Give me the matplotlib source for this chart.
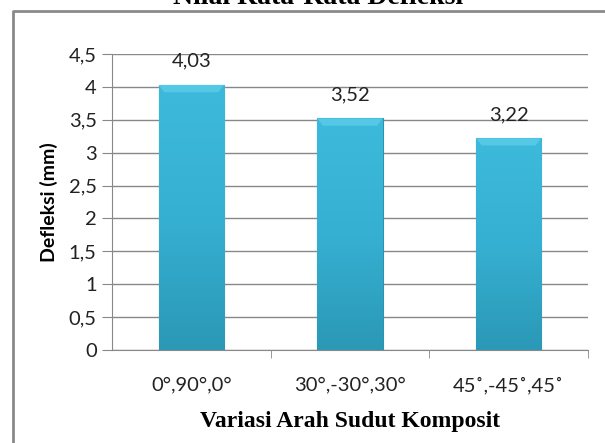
import numpy as np
import matplotlib
matplotlib.use("Agg")
import matplotlib.pyplot as plt
from matplotlib.lines import Line2D
from matplotlib.colors import LinearSegmentedColormap

# data
categories = ["0°,90°,0°", "30°,-30°,30°", "45˚,-45˚,45˚"]
values = [4.03, 3.52, 3.22]
value_labels = ["4,03", "3,52", "3,22"]
yticks = [0, 0.5, 1, 1.5, 2, 2.5, 3, 3.5, 4, 4.5]
ytick_labels = ["0", "0,5", "1", "1,5", "2", "2,5", "3", "3,5", "4", "4,5"]

sans = ["Lato", "DejaVu Sans"]
serif = ["Liberation Serif", "DejaVu Serif"]

fig = plt.figure(figsize=(6.05, 4.43), dpi=100)
ax = fig.add_axes([0.185, 0.21, 0.787, 0.668])

x = np.arange(len(categories))
bar_w = 0.41
bars = ax.bar(x, values, width=bar_w, color="#37b4d6", edgecolor="#2a93b0",
              linewidth=0.8, zorder=3)

# vertical gradient on each bar
cmap = LinearSegmentedColormap.from_list("bar", ["#2b98b6", "#36b0d2", "#3dbadb"])
grad = np.linspace(0, 1, 256).reshape(-1, 1)
for b in bars:
    x0, w, h = b.get_x(), b.get_width(), b.get_height()
    im = ax.imshow(grad, cmap=cmap, aspect="auto", origin="lower",
                   extent=[x0, x0 + w, 0, h], zorder=3.1)
    im.set_clip_path(b)
    # light bevel at the top
    ax.fill([x0, x0 + w, x0 + w - 0.035, x0 + 0.035], [h, h, h - 0.11, h - 0.11],
            color="#55c8e6", zorder=3.2, lw=0)

for xi, v, lab in zip(x, values, value_labels):
    ax.annotate(lab, (xi, v), xytext=(0, 17), textcoords="offset points",
                ha="center", va="center", fontsize=14.5, family=sans, color="#222222")

ax.set_xlim(-0.5, 2.5)
ax.set_ylim(0, 4.5)
ax.set_yticks(yticks)
ax.set_yticklabels(ytick_labels, family=sans, fontsize=14.5, color="#222222")
ax.set_xticks(x)
ax.set_xticklabels(categories, family=sans, fontsize=14.5, color="#222222")
ax.set_xticks([0.5, 1.5, 2.5], minor=True)
ax.tick_params(axis="x", which="major", length=0, pad=19)
ax.tick_params(axis="x", which="minor", length=6, color="#888888", direction="out")
ax.tick_params(axis="y", length=7, color="#888888", direction="out", pad=4)
ax.grid(axis="y", color="#888888", linewidth=1, zorder=0)
ax.set_axisbelow(True)
for s in ["top", "right"]:
    ax.spines[s].set_visible(False)
for s in ["left", "bottom"]:
    ax.spines[s].set_color("#888888")

ax.set_ylabel("Defleksi (mm)", family=sans, fontweight="bold", fontsize=14, labelpad=8)
ax.set_xlabel("Variasi Arah Sudut Komposit", family=serif, fontweight="bold",
              fontsize=17, labelpad=12)

fig.text(0.525, 1.0 - 4 / 443, "Nilai Rata-Rata Defleksi", family=serif,
         fontweight="bold", fontsize=20, ha="center", va="baseline")

# outer frame (top and left edges visible)
fig.add_artist(Line2D([13 / 605, 13 / 605, 1.0], [0.0, 1 - 11 / 443, 1 - 11 / 443],
                      transform=fig.transFigure, color="#8a8a8a", lw=2))

fig.savefig("out.png", dpi=100)
